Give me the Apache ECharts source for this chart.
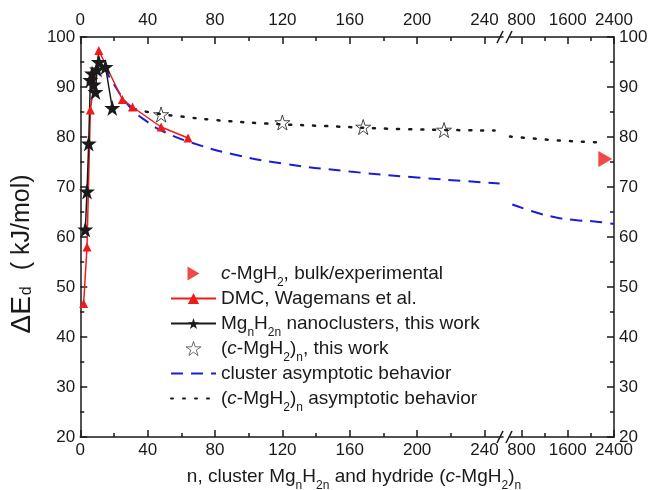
<!DOCTYPE html>
<html>
<head>
<meta charset="utf-8">
<script src="https://cdn.jsdelivr.net/npm/echarts@6/dist/echarts.min.js"></script>
<style>
html, body { margin: 0; padding: 0; background: #fff; }
#main { width: 654px; height: 490px; }
</style>
</head>
<body>
<div id="main"></div>
<script>
// values (n, kJ/mol)
var dmcN = [2, 4, 6, 11, 25, 31, 48, 64];
var dmcE = [46.7, 58.0, 85.4, 97.3, 87.5, 86.0, 82.0, 79.8];

var clusterN = [3, 4, 5, 6, 7, 8, 9, 10, 11, 15, 19];
var clusterE = [61.5, 69.1, 78.7, 91.4, 92.7, 90.5, 89.0, 93.5, 95.0, 94.0, 85.8];

var cellN = [48, 120, 168, 216];
var cellE = [84.5, 82.9, 82.0, 81.4];

var bulkN = [2250];
var bulkE = [75.6];

// cluster asymptotic behavior, left and right part of the broken axis
var fitN = [14, 20, 30, 40, 50, 65, 90, 120, 160, 200, 249];
var fitE = [94.0, 90.5, 85.8, 83.0, 81.0, 79.0, 76.6, 74.7, 73.1, 71.9, 70.7];
var fitN2 = [640, 1055, 1400, 1720, 2070, 2400];
var fitE2 = [66.5, 64.9, 63.9, 63.4, 63.1, 62.6];

// (c-MgH2)n asymptotic behavior
var asymN = [32, 45, 60, 80, 110, 145, 190, 246];
var asymE = [85.6, 84.7, 84.1, 83.4, 82.7, 82.2, 81.6, 81.3];
var asymN2 = [600, 1460, 2250];
var asymE2 = [80.1, 79.3, 78.9];

// tick labels
var xTicks1 = [0, 40, 80, 120, 160, 200, 240];
var xMinor1 = [20, 60, 100, 140, 180, 220];
var xTicks2 = [800, 1600, 2400];
var xMinor2 = [1200, 2000];

var font = 'Liberation Sans, Arial, sans-serif';
var ink = '#1a1a1a';
var red = '#ee1b1b';
var blue = '#1c1cd8';
var starPath = 'path://M50,0L61.2,34.5L97.6,34.5L68.2,55.9L79.4,90.5L50,69.1L20.6,90.5L31.8,55.9L2.4,34.5L38.8,34.5Z';
var rightTri = 'path://M0,0L12,7L0,14Z';

function pairs(xs, ys) {
    return xs.map(function (x, i) { return [x, ys[i]]; });
}

// t = normal text, i = italic, s = subscript (pushed down by its top padding)
var rich = {
    t: { fontSize: 19, fontFamily: font, fontWeight: 'normal', color: ink, verticalAlign: 'middle' },
    i: { fontSize: 19, fontFamily: font, fontWeight: 'normal', color: ink, verticalAlign: 'middle', fontStyle: 'italic' },
    s: { fontSize: 12, fontFamily: font, fontWeight: 'normal', color: ink, lineHeight: 12, verticalAlign: 'top', padding: [13, 0, 0, 0] }
};

function xAxisOf(grid, pos, min, max, ticks, len, labels) {
    return {
        type: 'value', gridIndex: grid, position: pos, min: min, max: max,
        axisLine: { show: !!labels, lineStyle: { color: ink, width: 1.5 } },
        axisTick: { inside: true, length: len, customValues: ticks, lineStyle: { color: ink, width: 1.5 } },
        axisLabel: labels ? {
            customValues: labels, fontSize: 17, fontFamily: font, color: ink,
            margin: pos === 'top' ? 8 : 5,
            formatter: function (v) { return String(v); }
        } : { show: false },
        splitLine: { show: false }
    };
}

function yAxisOf(grid, pos) {
    return {
        type: 'value', gridIndex: grid, position: pos, min: 20, max: 100, interval: 10,
        axisLine: { show: true, lineStyle: { color: ink, width: 1.5 } },
        axisTick: { inside: true, length: 7, lineStyle: { color: ink, width: 1.5 } },
        minorTick: { show: true, splitNumber: 2, length: 4, lineStyle: { color: ink, width: 1.5 } },
        axisLabel: { fontSize: 17, fontFamily: font, color: ink, margin: 5 },
        splitLine: { show: false }
    };
}

// every row ends with a subscript token so all rows get the same height
var legendText = {
    bulk: '{i|c}{t|-MgH}{s|2}{t|, bulk/experimental}',
    dmc: '{t|DMC, Wagemans et al.}{s| }',
    cluster: '{t|Mg}{s|n}{t|H}{s|2n}{t| nanoclusters, this work}',
    cell: '{t|(}{i|c}{t|-MgH}{s|2}{t|)}{s|n}{t|, this work}',
    fit: '{t|cluster asymptotic behavior}{s| }',
    asym: '{t|(}{i|c}{t|-MgH}{s|2}{t|)}{s|n}{t| asymptotic behavior}'
};

var left = yAxisOf(0, 'left');
left.name = '{a|ΔE}{b|d}{c|( kJ/mol)}';
left.nameLocation = 'middle';
left.nameGap = 34;
left.nameRotate = 90;
left.nameTextStyle = {
    rich: {
        a: { fontSize: 28, fontFamily: font, color: ink, lineHeight: 32, verticalAlign: 'middle' },
        b: { fontSize: 16, fontFamily: font, color: ink, lineHeight: 16, verticalAlign: 'middle', padding: [9, 16, 0, 1] },
        c: { fontSize: 25, fontFamily: font, color: ink, lineHeight: 32, verticalAlign: 'middle', padding: [0, 34, 0, 0] }
    }
};

var chart = echarts.init(document.getElementById('main'));

var option = {
    backgroundColor: '#fff',
    animation: false,
    title: {
        text: '{t|n, cluster Mg}{s|n}{t|H}{s|2n}{t| and hydride (}{i|c}{t|-MgH}{s|2}{t|)}{s|n}',
        left: 349, top: 462, textAlign: 'center',
        textStyle: { fontWeight: 'normal', rich: rich }
    },
    grid: [
        { left: 75, right: 151, top: 37, bottom: 53 },
        { left: 510, right: 40, top: 37, bottom: 53 }
    ],
    xAxis: [
        xAxisOf(0, 'bottom', 0, 251, xTicks1, 7, xTicks1),
        xAxisOf(0, 'top', 0, 251, xTicks1, 7, xTicks1),
        xAxisOf(0, 'bottom', 0, 251, xMinor1, 4, null),
        xAxisOf(0, 'top', 0, 251, xMinor1, 4, null),
        xAxisOf(1, 'bottom', 600, 2400, xTicks2, 7, xTicks2),
        xAxisOf(1, 'top', 600, 2400, xTicks2, 7, xTicks2),
        xAxisOf(1, 'bottom', 600, 2400, xMinor2, 4, null),
        xAxisOf(1, 'top', 600, 2400, xMinor2, 4, null)
    ],
    yAxis: [left, yAxisOf(1, 'right')],
    legend: {
        orient: 'vertical', left: 165, top: 259, itemGap: 0,
        itemWidth: 45, itemHeight: 14,
        data: [
            { name: 'bulk', icon: rightTri },
            'dmc', 'cluster',
            { name: 'cell', itemStyle: { borderWidth: 0.8 } },
            { name: 'fit', itemStyle: { opacity: 0 } },
            { name: 'asym', itemStyle: { opacity: 0 } }
        ],
        formatter: function (name) { return legendText[name]; },
        textStyle: { rich: rich }
    },
    graphic: [37, 437].map(function (y) {
        return {
            type: 'group', silent: true,
            children: [
                { type: 'rect', shape: { x: 502, y: y - 2, width: 8, height: 4 }, style: { fill: '#fff' } },
                { type: 'line', shape: { x1: 497, y1: y + 6, x2: 503, y2: y - 6 }, style: { stroke: ink, lineWidth: 1.5 } },
                { type: 'line', shape: { x1: 506, y1: y + 6, x2: 512, y2: y - 6 }, style: { stroke: ink, lineWidth: 1.5 } }
            ]
        };
    }),
    series: [
        {
            name: 'fit', type: 'line', xAxisIndex: 0, yAxisIndex: 0, smooth: true, symbol: 'none',
            data: pairs(fitN, fitE),
            lineStyle: { color: blue, width: 2, type: [12, 8] }, itemStyle: { color: blue }
        },
        {
            name: 'fit', type: 'line', xAxisIndex: 4, yAxisIndex: 1, smooth: true, symbol: 'none',
            data: pairs(fitN2, fitE2),
            lineStyle: { color: blue, width: 2, type: [12, 8] }, itemStyle: { color: blue }
        },
        {
            name: 'asym', type: 'line', xAxisIndex: 0, yAxisIndex: 0, smooth: true, symbol: 'none',
            data: pairs(asymN, asymE),
            lineStyle: { color: ink, width: 2.5, type: [2, 10], cap: 'round' }, itemStyle: { color: ink }
        },
        {
            name: 'asym', type: 'line', xAxisIndex: 4, yAxisIndex: 1, smooth: true, symbol: 'none',
            data: pairs(asymN2, asymE2),
            lineStyle: { color: ink, width: 2.5, type: [2, 10], cap: 'round' }, itemStyle: { color: ink }
        },
        {
            name: 'cell', type: 'scatter', xAxisIndex: 0, yAxisIndex: 0,
            symbol: starPath, symbolSize: 15,
            data: pairs(cellN, cellE),
            itemStyle: { color: '#fff', borderColor: ink, borderWidth: 1 }
        },
        {
            name: 'dmc', type: 'line', xAxisIndex: 0, yAxisIndex: 0,
            symbol: 'triangle', symbolSize: 9, showAllSymbol: true,
            data: pairs(dmcN, dmcE),
            lineStyle: { color: red, width: 1.5 }, itemStyle: { color: red }
        },
        {
            name: 'cluster', type: 'line', xAxisIndex: 0, yAxisIndex: 0,
            symbol: starPath, symbolSize: 16, showAllSymbol: true,
            data: pairs(clusterN, clusterE),
            lineStyle: { color: ink, width: 1.5 }, itemStyle: { color: ink }
        },
        {
            name: 'bulk', type: 'scatter', xAxisIndex: 4, yAxisIndex: 1,
            symbol: rightTri, symbolSize: [14, 16],
            data: pairs(bulkN, bulkE),
            itemStyle: { color: red }
        }
    ]
};

chart.setOption(option);
</script>
</body>
</html>
